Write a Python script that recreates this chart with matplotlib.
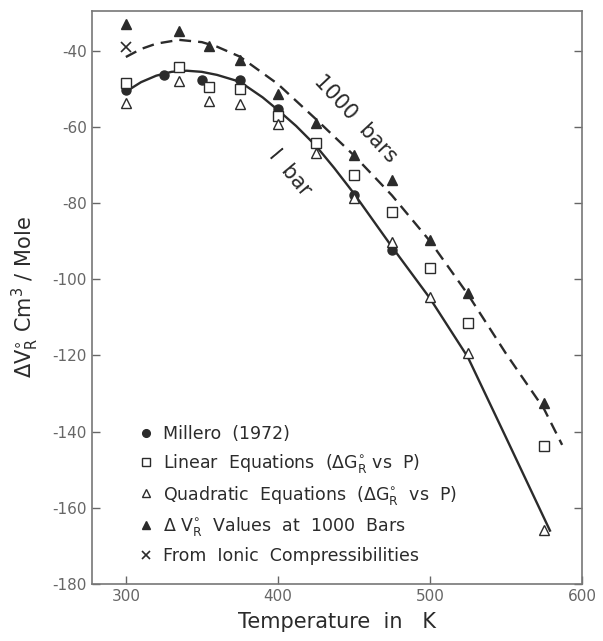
import numpy as np
import matplotlib
matplotlib.use('Agg')
import matplotlib.pyplot as plt

plt.rcParams['axes.unicode_minus'] = False

# 데이터
t_millero = [300, 325, 350, 375, 400, 425, 450, 475]
v_millero = [-50.3, -46.4, -47.7, -47.8, -55.3, -64.3, -77.8, -92.4]

t_eq = [300, 335, 355, 375, 400, 425, 450, 475, 500, 525, 575]
v_linear = [-48.5, -44.3, -49.6, -50.1, -57.3, -64.3, -72.8, -82.3, -97.0, -111.5, -143.8]
v_quad = [-53.7, -48.1, -53.3, -54.0, -59.3, -66.8, -78.8, -90.3, -104.8, -119.3, -165.8]
v_1000 = [-33.0, -35.0, -38.9, -42.4, -51.3, -59.0, -67.3, -73.9, -89.6, -103.6, -132.6]

t_ionic = [300]
v_ionic = [-39.0]

# 곡선 (그림에서 읽은 점)
t_1bar = [300, 310, 320, 330, 340, 350, 360, 375, 390, 400, 412, 425, 437, 450, 475, 500,
          525, 550, 579]
v_1bar = [-50.8, -48.3, -46.6, -45.6, -45.3, -45.6, -46.4, -48.2, -52.3, -55.6, -59.8, -65.0,
          -70.8, -77.5, -91.5, -105.0, -120.5, -141.5, -166.0]
t_1000bar = [300, 310, 320, 335, 350, 360, 375, 400, 425, 450, 475, 500, 525, 550, 575, 587]
v_1000bar = [-41.7, -39.6, -38.2, -37.2, -37.8, -39.0, -41.6, -48.8, -58.0, -67.5, -78.0,
             -90.0, -104.0, -119.5, -134.0, -143.5]

ink = '#2b2b2b'
gray = '#666666'

fig = plt.figure(figsize=(6.03, 6.41), dpi=100)
ax = fig.add_axes([0.152, 0.089, 0.813, 0.894])

ax.plot(t_1bar, v_1bar, color=ink, lw=1.7)
ax.plot(t_1000bar, v_1000bar, color=ink, lw=1.7, dashes=(5, 3))

ms = 6.5
ax.plot(t_millero, v_millero, 'o', color=ink, ms=ms, mec=ink, ls='none',
        label='Millero  (1972)')
ax.plot(t_eq, v_linear, 's', mfc='white', mec=ink, mew=1.0, ms=ms, ls='none',
        label=r'Linear  Equations  ($\Delta \mathrm{G}^{\circ}_{\mathrm{R}}$ vs  P)')
ax.plot(t_eq, v_quad, '^', mfc='white', mec=ink, mew=1.0, ms=ms + 1, ls='none',
        label=r'Quadratic  Equations  ($\Delta \mathrm{G}^{\circ}_{\mathrm{R}}$  vs  P)')
ax.plot(t_eq, v_1000, '^', color=ink, ms=ms + 1, ls='none',
        label=r'$\Delta\ \mathrm{V}^{\circ}_{\mathrm{R}}$  Values  at  1000  Bars')
ax.plot(t_ionic, v_ionic, 'x', color=ink, ms=ms, mew=1.2, ls='none',
        label='From  Ionic  Compressibilities')

ax.text(451, -58, '1000  bars', rotation=-47, fontsize=15, color=ink,
        ha='center', va='center')
ax.text(408, -72, 'I  bar', rotation=-50, fontsize=15, color=ink,
        ha='center', va='center')

ax.set_xlim(277.5, 600)
ax.set_ylim(-180, -29.6)
ax.set_xticks([300, 400, 500, 600])
ax.set_yticks(np.arange(-180, -39, 20))
ax.tick_params(direction='in', length=6, width=1, color=gray, labelcolor=gray,
               labelsize=11, right=True)
for s in ax.spines.values():
    s.set_color('#777777')
    s.set_linewidth(1.2)

ax.set_xlabel('Temperature  in   K', fontsize=15, color=ink, labelpad=6)
ax.set_ylabel(r'$\Delta \mathrm{V}^{\circ}_{\mathrm{R}}$ Cm$^3$ / Mole', fontsize=15,
              color=ink, labelpad=8)

leg = ax.legend(loc='lower left', bbox_to_anchor=(0.064, 0.006), frameon=False,
                fontsize=12.5, handlelength=0.8, handletextpad=0.6, labelspacing=0.5,
                markerscale=0.85)
for txt in leg.get_texts():
    txt.set_color(ink)

fig.savefig('out.png', dpi=100)
